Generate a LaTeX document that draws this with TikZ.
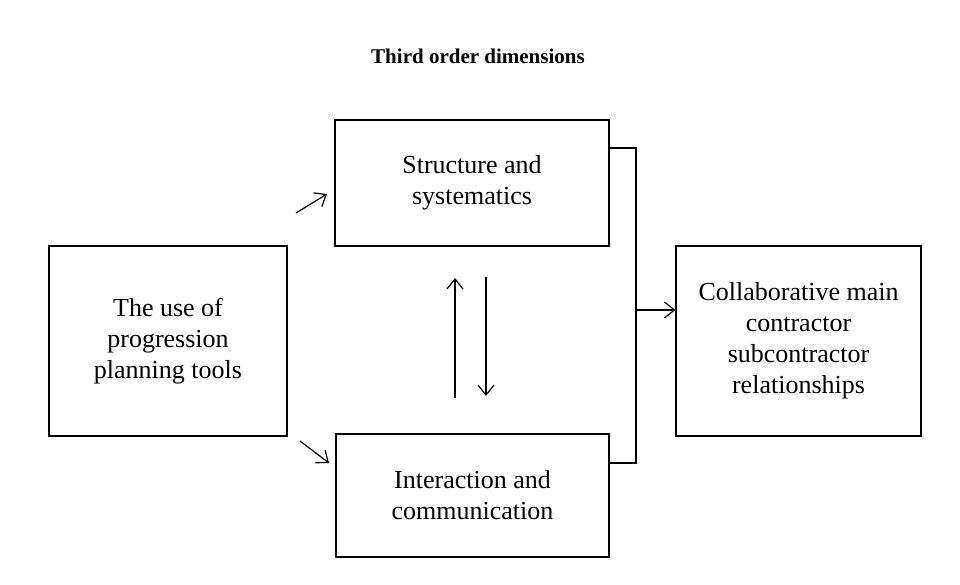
\documentclass[tikz,border=0pt]{standalone}
\usepackage{fontspec}
\setmainfont{Liberation Serif}
\usetikzlibrary{positioning}
\usetikzlibrary{arrows.meta}

\tikzset{
  dimbox/.style={draw,line width=1.2pt,align=center,font=\fontsize{26}{31}\selectfont},
  link/.style={line width=1.2pt,-{Straight Barb[length=10pt,width=16pt,line width=1.2pt]}}
}

\begin{document}
\begin{tikzpicture}[x=1pt,y=-1pt]
\useasboundingbox (0,0) rectangle (960,584);
\node[font=\fontsize{21}{25}\selectfont\bfseries] (title) at (478,56) {Third order dimensions};

\node[dimbox,minimum width=274pt,minimum height=126pt] (struct) at (472,183) {Structure and\\systematics};
\node[dimbox,minimum width=273pt,minimum height=123pt] (inter) at (472.5,495.5) {Interaction and\\communication};
\node[dimbox,minimum width=238pt,minimum height=190pt] (tools) at (168,341) {The use of\\progression\\planning tools};
\node[dimbox,minimum width=245pt,minimum height=190pt] (collab) at (798.5,341) {Collaborative main\\contractor\\subcontractor\\relationships};

\coordinate (ua) at (296,213);
\coordinate (ub) at (327,194);
\coordinate (la) at (300,441);
\coordinate (lb) at (329,463);
\draw[link] (ua) -- (ub);
\draw[link] (la) -- (lb);

\coordinate (upa) at (455,398);
\coordinate (upb) at (455,278);
\coordinate (dna) at (486,277);
\coordinate (dnb) at (486,396);
\draw[link] (upa) -- (upb);
\draw[link] (dna) -- (dnb);

\coordinate (jt) at (636,148);
\coordinate (jm) at (636,310);
\coordinate (jb) at (636,463);
\draw[line width=1.2pt] (struct.east|-jt) -- (jt) -- (jb) -- (inter.east|-jb);
\draw[link] (jm) -- (collab.west|-jm);

\end{tikzpicture}
\end{document}
